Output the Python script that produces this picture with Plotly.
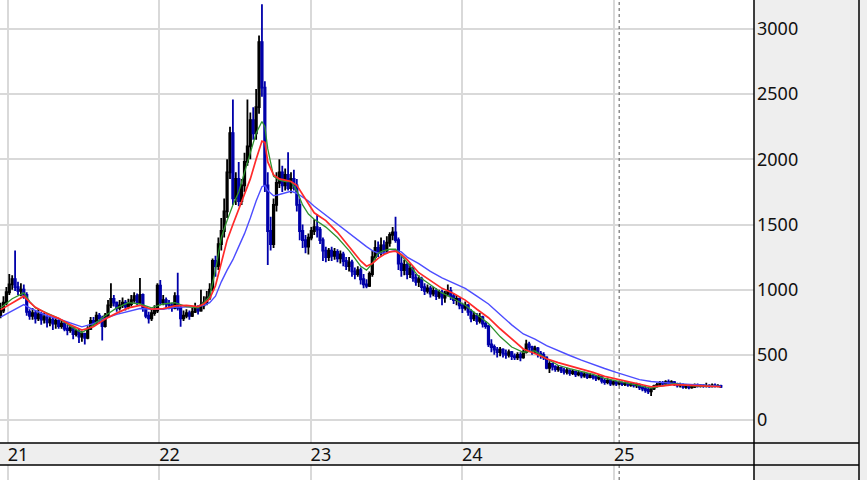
import pandas as pd
import plotly.graph_objects as go

# weekly candles, first week starting 2020-12-14
open_ = [800, 840, 900, 980, 1040, 1080, 1020, 990, 1000, 960,
         830, 800, 820, 780, 810, 770, 790, 750, 770, 740,
         760, 720, 740, 700, 690, 710, 660, 680, 640, 660,
         630, 700, 760, 740, 800, 780, 720, 800, 880, 930,
         900, 860, 880, 900, 870, 890, 920, 950, 900, 960,
         860, 800, 780, 820, 840, 1030, 900, 920, 890, 880,
         860, 950, 860, 780, 800, 820, 800, 830, 860, 840,
         880, 900, 940, 1000, 1220, 1180, 1350, 1450, 1600, 1900,
         2200, 1700, 1850, 1680, 1800, 1980, 2100, 2300, 2200, 2400,
         2900, 2550, 1800, 1450, 1350, 1650, 1820, 1900, 1800, 1880,
         1780, 1850, 1800, 1650, 1450, 1380, 1330, 1400, 1450, 1480,
         1460, 1380, 1300, 1250, 1300, 1260, 1290, 1240, 1270, 1220,
         1180, 1210, 1140, 1120, 1150, 1080, 1040, 1030, 1120, 1250,
         1320, 1280, 1340, 1300, 1360, 1420, 1440, 1380, 1200, 1150,
         1190, 1120, 1160, 1090, 1060, 1080, 1020, 990, 1010, 970,
         990, 950, 980, 940, 970, 990, 950, 920, 930, 880,
         860, 880, 830, 780, 800, 760, 790, 740, 720, 580,
         560, 540, 520, 540, 510, 500, 520, 490, 480, 500,
         480, 520, 580, 560, 530, 550, 510, 500, 480, 400,
         430, 410, 390, 400, 380, 370, 380, 360, 370, 350,
         360, 340, 350, 330, 340, 330, 320, 330, 300, 290,
         300, 280, 290, 280, 285, 275, 280, 270, 275, 265,
         270, 250, 240, 230, 220, 240, 260, 270, 285, 280,
         290, 285, 290, 275, 265, 270, 255, 260, 250, 255,
         265, 260, 265, 260, 262, 258, 265, 260, 262]
high = [900, 950, 1020, 1120, 1110, 1300, 1060, 1050, 1040, 980,
        850, 860, 840, 850, 830, 820, 810, 800, 790, 790,
        780, 770, 760, 730, 730, 720, 700, 700, 680, 670,
        720, 790, 790, 830, 820, 800, 820, 920, 1050, 960,
        910, 920, 940, 920, 930, 960, 980, 970, 1090, 970,
        870, 830, 850, 880, 1050, 1075, 960, 940, 920, 900,
        980, 1130, 880, 840, 850, 840, 860, 900, 880, 1000,
        950, 990, 1050, 1240, 1260, 1400, 1550, 1700, 2000, 2250,
        2460, 1900, 1980, 1850, 2050, 2460, 2360, 2400, 2540, 2950,
        3190, 2600, 1900, 1560, 1700, 1900, 2000, 1950, 1930, 2055,
        1900, 1920, 1850, 1700, 1500, 1420, 1430, 1480, 1540, 1580,
        1480, 1400, 1330, 1320, 1330, 1320, 1310, 1300, 1290, 1250,
        1250, 1230, 1170, 1180, 1170, 1120, 1080, 1140, 1300, 1380,
        1370, 1400, 1380, 1410, 1440, 1480, 1560, 1400, 1260, 1230,
        1210, 1200, 1180, 1120, 1110, 1100, 1050, 1040, 1030, 1020,
        1010, 1000, 1000, 990, 1040, 1020, 970, 960, 940, 900,
        910, 890, 850, 830, 820, 820, 800, 760, 730, 620,
        580, 560, 560, 550, 540, 540, 530, 510, 520, 520,
        540, 615, 600, 570, 570, 560, 530, 520, 490, 450,
        440, 420, 420, 410, 400, 400, 390, 390, 380, 380,
        370, 370, 360, 360, 355, 345, 350, 335, 315, 320,
        310, 305, 300, 300, 295, 295, 290, 290, 285, 285,
        280, 265, 260, 245, 250, 270, 285, 300, 300, 305,
        310, 305, 300, 285, 285, 280, 275, 270, 270, 280,
        280, 275, 275, 285, 275, 280, 280, 275, 270]
low = [780, 820, 880, 960, 1000, 990, 960, 950, 930, 800,
       770, 770, 740, 760, 730, 740, 710, 720, 690, 700,
       700, 700, 680, 650, 670, 620, 640, 590, 600, 580,
       620, 690, 720, 730, 740, 610, 710, 790, 860, 870,
       830, 840, 860, 840, 850, 870, 900, 880, 890, 830,
       780, 740, 760, 800, 820, 880, 880, 860, 850, 830,
       850, 840, 715, 760, 780, 770, 790, 820, 810, 830,
       850, 880, 920, 990, 1100, 1150, 1300, 1400, 1550, 1850,
       1650, 1650, 1640, 1650, 1750, 1950, 2000, 2150, 2150, 2350,
       2480, 1750, 1190, 1300, 1320, 1600, 1780, 1750, 1760, 1760,
       1740, 1760, 1600, 1380, 1320, 1280, 1270, 1380, 1420, 1400,
       1350, 1220, 1210, 1220, 1220, 1230, 1210, 1200, 1180, 1150,
       1140, 1100, 1080, 1100, 1040, 1010, 1010, 1020, 1100, 1230,
       1250, 1260, 1270, 1280, 1330, 1380, 1360, 1150, 1100, 1110,
       1080, 1090, 1060, 1030, 1020, 990, 960, 970, 940, 950,
       920, 930, 880, 900, 950, 920, 890, 880, 850, 820,
       840, 800, 750, 760, 730, 740, 710, 700, 560, 520,
       500, 480, 490, 480, 470, 480, 460, 460, 460, 450,
       470, 510, 530, 500, 510, 480, 470, 460, 390, 360,
       380, 370, 370, 360, 350, 350, 340, 345, 330, 335,
       320, 325, 315, 320, 310, 300, 305, 280, 270, 275,
       260, 265, 260, 265, 260, 260, 255, 255, 250, 245,
       230, 220, 210, 200, 185, 230, 250, 260, 265, 270,
       270, 275, 260, 250, 250, 240, 240, 235, 240, 245,
       250, 250, 248, 250, 248, 250, 250, 252, 245]
close = [840, 900, 980, 1040, 1080, 1020, 990, 1000, 960, 830,
         800, 820, 780, 810, 770, 790, 750, 770, 740, 760,
         720, 740, 700, 690, 710, 660, 680, 640, 660, 630,
         700, 760, 740, 800, 780, 720, 800, 880, 930, 900,
         860, 880, 900, 870, 890, 920, 950, 900, 960, 860,
         800, 780, 820, 840, 1030, 900, 920, 890, 880, 860,
         950, 860, 780, 800, 820, 800, 830, 860, 840, 880,
         900, 940, 1000, 1220, 1180, 1350, 1450, 1600, 1900, 2200,
         1700, 1850, 1680, 1800, 1980, 2100, 2300, 2200, 2400, 2900,
         2550, 1800, 1450, 1350, 1650, 1820, 1900, 1800, 1880, 1780,
         1850, 1800, 1650, 1450, 1380, 1330, 1400, 1450, 1480, 1460,
         1380, 1300, 1250, 1300, 1260, 1290, 1240, 1270, 1220, 1180,
         1210, 1140, 1120, 1150, 1080, 1040, 1030, 1120, 1250, 1320,
         1280, 1340, 1300, 1360, 1420, 1440, 1380, 1200, 1150, 1190,
         1120, 1160, 1090, 1060, 1080, 1020, 990, 1010, 970, 990,
         950, 980, 940, 970, 990, 950, 920, 930, 880, 860,
         880, 830, 780, 800, 760, 790, 740, 720, 580, 560,
         540, 520, 540, 510, 500, 520, 490, 480, 500, 480,
         520, 580, 560, 530, 550, 510, 500, 480, 400, 430,
         410, 390, 400, 380, 370, 380, 360, 370, 350, 360,
         340, 350, 330, 340, 330, 320, 330, 300, 290, 300,
         280, 290, 280, 285, 275, 280, 270, 275, 265, 270,
         250, 240, 230, 220, 240, 260, 270, 285, 280, 290,
         285, 290, 275, 265, 270, 255, 260, 250, 255, 265,
         260, 265, 260, 262, 258, 265, 260, 262, 255]

# moving averages at selected weeks
ma_week = [0, 4, 8, 10, 12, 16, 20, 24, 28, 32, 36, 40, 44, 48, 52, 56, 60, 64, 68, 70,
           72, 74, 76, 78, 80, 82, 84, 86, 88, 90, 91, 92, 94, 96, 98, 100, 102, 104, 106, 108,
           110, 112, 116, 120, 124, 126, 128, 130, 132, 134, 136, 138, 140, 144, 148, 152, 156, 160, 164, 168,
           172, 176, 180, 184, 188, 192, 196, 200, 204, 208, 212, 216, 220, 224, 228, 232, 236, 240, 244, 248]
ma_short = [860, 930, 975, 910, 860, 820, 780, 720, 670, 730, 800, 860, 900, 890, 860, 890, 900, 870, 860, 900,
            950, 1150, 1400, 1530, 1650, 1750, 1900, 2050, 2200, 2290, 2250, 2080, 1870, 1840, 1830, 1830, 1760, 1650, 1580, 1540,
            1510, 1480, 1400, 1300, 1180, 1150, 1200, 1280, 1300, 1310, 1310, 1260, 1210, 1100, 1040, 975, 930, 880, 810, 740,
            640, 560, 520, 530, 470, 420, 395, 375, 350, 320, 300, 285, 262, 245, 262, 278, 266, 260, 260, 256]
ma_mid = [845, 900, 950, 905, 865, 815, 780, 730, 690, 715, 775, 820, 860, 880, 850, 855, 875, 880, 870, 890,
          930, 1030, 1200, 1380, 1500, 1620, 1730, 1850, 2000, 2140, 2130, 1980, 1880, 1850, 1840, 1830, 1800, 1730, 1650, 1590,
          1560, 1530, 1440, 1330, 1220, 1180, 1200, 1240, 1270, 1290, 1295, 1270, 1230, 1130, 1070, 1010, 970, 920, 850, 785,
          700, 620, 545, 510, 470, 440, 415, 395, 365, 335, 315, 295, 270, 255, 262, 272, 268, 262, 258, 255]
ma_long = [790, 840, 885, 860, 840, 800, 775, 745, 715, 740, 780, 810, 830, 855, 850, 850, 865, 870, 870, 880,
           900, 950, 1060, 1150, 1230, 1330, 1430, 1550, 1680, 1790, 1800, 1760, 1720, 1730, 1745, 1755, 1740, 1710, 1680, 1640,
           1605, 1570, 1500, 1430, 1360, 1330, 1300, 1280, 1280, 1290, 1300, 1290, 1250, 1200, 1140, 1090, 1050, 1010, 950, 890,
           810, 730, 660, 620, 570, 530, 495, 460, 425, 395, 365, 335, 310, 295, 285, 280, 275, 270, 265, 260]

year_ticks = ["2021-01-01", "2022-01-01", "2023-01-01", "2024-01-01", "2025-01-01"]
year_labels = ["21", "22", "23", "24", "25"]
price_ticks = [0, 500, 1000, 1500, 2000, 2500, 3000]

weeks = pd.date_range("2020-12-14", periods=len(close), freq="7D")
ma_dates = weeks[ma_week]

W, H = 867, 480
plot_right = 754 / W
right_edge = 859 / W
band_top = 37 / H
band_bot = 15 / H
grid = "#d9d9d9"
x_range = ["2020-12-12 15:00", "2025-12-04"]

fig = go.Figure()

fig.add_trace(go.Candlestick(
    x=weeks, open=open_, high=high, low=low, close=close,
    increasing=dict(line=dict(color="#000000", width=1.8), fillcolor="#000000"),
    decreasing=dict(line=dict(color="#0000aa", width=1.8), fillcolor="#0000aa"),
    whiskerwidth=0, showlegend=False, hoverinfo="skip"))

for vals, col, w in [(ma_long, "#4d4dff", 1.4), (ma_short, "#2f932f", 1.3), (ma_mid, "#ff2a2a", 1.7)]:
    fig.add_trace(go.Scatter(x=ma_dates, y=vals, mode="lines",
                             line=dict(color=col, width=w), showlegend=False, hoverinfo="skip"))

# empty lower panel (only grid visible)
fig.add_trace(go.Scatter(x=[weeks[0]], y=[0], mode="markers", marker=dict(opacity=0),
                         xaxis="x2", yaxis="y2", showlegend=False, hoverinfo="skip"))

fig.update_layout(
    width=W, height=H,
    margin=dict(l=0, r=0, t=0, b=0),
    paper_bgcolor="#eeeeee", plot_bgcolor="white",
    font=dict(family="Noto Sans, Open Sans, sans-serif", size=18, color="#111111"),
    xaxis=dict(domain=[0, plot_right], anchor="y", range=x_range,
               rangeslider=dict(visible=False),
               tickvals=year_ticks, ticktext=year_labels,
               showgrid=True, gridcolor=grid, gridwidth=2,
               ticks="", ticklabelshift=10, ticklabelstandoff=-1,
               showline=False, zeroline=False),
    yaxis=dict(domain=[band_top, 1], anchor="x", side="right",
               range=[-176.5, 3222.5], tickvals=price_ticks,
               showgrid=True, gridcolor=grid, gridwidth=2,
               ticks="", ticklabelstandoff=2, zeroline=False, showline=False),
    xaxis2=dict(domain=[0, plot_right], anchor="y2", matches="x", range=x_range,
                tickvals=year_ticks, showticklabels=False,
                showgrid=True, gridcolor=grid, gridwidth=2, ticks="", zeroline=False),
    yaxis2=dict(domain=[0, band_bot], anchor="x2", showgrid=False,
                showticklabels=False, zeroline=False, range=[0, 1]),
)

dash = dict(color="#555555", width=1, dash="3px,3px")
shapes = [
    # dashed marker line, plot area and lower panel
    dict(type="line", xref="x", yref="paper", x0="2025-01-13", x1="2025-01-13", y0=band_top, y1=1, line=dash),
    dict(type="line", xref="x", yref="paper", x0="2025-01-13", x1="2025-01-13", y0=0, y1=band_bot, line=dash),
    # frame lines
    dict(type="line", xref="paper", yref="paper", x0=0, x1=right_edge, y0=band_top, y1=band_top,
         line=dict(color="black", width=1.5)),
    dict(type="line", xref="paper", yref="paper", x0=0, x1=right_edge, y0=band_bot, y1=band_bot,
         line=dict(color="black", width=1.5)),
    dict(type="line", xref="paper", yref="paper", x0=plot_right, x1=plot_right, y0=0, y1=1,
         line=dict(color="black", width=1.5)),
    dict(type="line", xref="paper", yref="paper", x0=right_edge, x1=right_edge, y0=0, y1=1,
         line=dict(color="black", width=1.5)),
]
fig.update_layout(shapes=shapes)

fig.write_html("out.html", config={"displayModeBar": False},
               post_script="document.body.style.margin='0';document.body.style.padding='0';")
